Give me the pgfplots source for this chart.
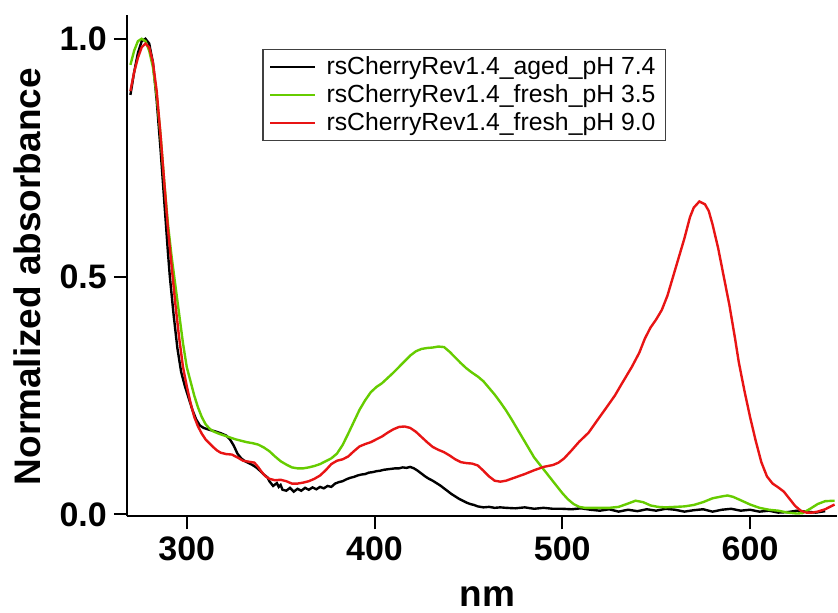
\documentclass[border=0pt]{standalone}
\usepackage{pgfplots}
\pgfplotsset{compat=1.18}
\usepackage{fontspec}
\setmainfont{Liberation Sans}
\definecolor{igreen}{RGB}{102,204,0}
\definecolor{ired}{RGB}{232,20,20}

\pgfplotstableread{
x y
270 0.882
272 0.93
274 0.97
276 0.995
278 1.0
280 0.99
282 0.95
284 0.87
286 0.77
288 0.66
290 0.55
291 0.50
293 0.42
295 0.35
297 0.30
299 0.27
301 0.245
303 0.22
305 0.20
307 0.187
309 0.182
312 0.178
315 0.175
318 0.171
321 0.166
323 0.158
325 0.145
327 0.128
329 0.118
331 0.112
333 0.108
335 0.104
337 0.099
339 0.092
341 0.084
343 0.078
344 0.070
346 0.060
348 0.066
349 0.058
350 0.062
351 0.052
353 0.050
355 0.056
357 0.048
359 0.054
361 0.050
363 0.056
365 0.052
367 0.057
369 0.053
371 0.058
373 0.055
375 0.060
377 0.058
379 0.065
381 0.068
383 0.070
385 0.074
387 0.077
389 0.079
391 0.082
393 0.084
395 0.085
397 0.088
399 0.089
401 0.091
403 0.092
405 0.094
407 0.095
409 0.096
411 0.097
413 0.097
415 0.099
417 0.098
419 0.100
421 0.097
423 0.092
425 0.086
427 0.080
429 0.075
431 0.071
433 0.066
435 0.061
437 0.055
439 0.049
441 0.043
443 0.038
445 0.033
447 0.029
449 0.025
451 0.022
453 0.020
455 0.017
458 0.015
461 0.016
464 0.014
467 0.015
470 0.014
475 0.013
480 0.015
485 0.012
490 0.014
495 0.012
500 0.012
505 0.011
510 0.013
515 0.010
520 0.008
525 0.011
530 0.006
535 0.010
540 0.007
545 0.011
550 0.008
555 0.012
560 0.010
565 0.006
570 0.009
575 0.011
580 0.006
585 0.010
590 0.012
595 0.008
600 0.010
605 0.006
610 0.008
615 0.004
620 0.005
625 0.008
630 0.006
635 0.004
640 0.007
}\aged

\pgfplotstableread{
x y
270 0.945
272 0.975
274 0.995
276 1.0
278 0.995
280 0.975
282 0.94
284 0.88
286 0.80
288 0.70
290 0.61
292 0.54
294 0.48
296 0.42
298 0.36
300 0.31
302 0.28
304 0.25
306 0.225
308 0.205
310 0.19
312 0.181
314 0.175
317 0.170
320 0.166
323 0.162
326 0.158
329 0.155
332 0.152
335 0.150
338 0.147
341 0.141
344 0.133
347 0.122
350 0.112
353 0.105
356 0.099
359 0.097
362 0.097
365 0.099
368 0.102
371 0.106
374 0.112
377 0.118
380 0.128
383 0.146
386 0.170
389 0.195
392 0.220
395 0.240
398 0.257
401 0.268
404 0.276
407 0.287
410 0.298
413 0.310
416 0.322
419 0.334
422 0.343
425 0.348
428 0.350
431 0.351
434 0.353
437 0.352
440 0.342
443 0.330
446 0.318
449 0.307
452 0.298
455 0.290
458 0.280
461 0.266
464 0.252
467 0.236
470 0.219
473 0.200
476 0.180
479 0.160
482 0.140
485 0.120
488 0.105
491 0.090
494 0.075
497 0.060
500 0.045
503 0.032
506 0.022
509 0.016
512 0.014
516 0.014
520 0.014
525 0.014
530 0.016
535 0.023
539 0.029
543 0.026
547 0.019
551 0.016
555 0.015
560 0.016
565 0.017
570 0.020
575 0.026
580 0.034
585 0.038
588 0.040
591 0.037
595 0.030
600 0.021
605 0.014
610 0.010
615 0.008
620 0.004
625 0.002
628 0.003
632 0.012
636 0.022
640 0.028
645 0.029
}\freshlow

\pgfplotstableread{
x y
270 0.89
272 0.93
274 0.96
276 0.982
278 0.99
280 0.982
282 0.95
284 0.89
286 0.80
288 0.70
290 0.60
292 0.52
294 0.44
296 0.37
298 0.31
300 0.27
302 0.235
304 0.205
306 0.185
308 0.170
310 0.158
312 0.150
314 0.142
316 0.135
318 0.130
321 0.127
324 0.126
327 0.120
330 0.113
333 0.111
336 0.109
338 0.100
340 0.089
342 0.080
344 0.075
347 0.072
350 0.073
353 0.070
356 0.065
359 0.065
362 0.067
365 0.070
368 0.075
371 0.082
374 0.093
377 0.106
380 0.113
383 0.116
386 0.122
389 0.133
392 0.143
395 0.148
398 0.152
401 0.158
404 0.164
407 0.172
410 0.179
413 0.184
416 0.185
419 0.182
422 0.174
425 0.163
428 0.152
431 0.142
434 0.136
437 0.131
440 0.124
443 0.116
446 0.110
449 0.108
452 0.107
455 0.103
458 0.092
461 0.080
464 0.071
467 0.069
470 0.071
475 0.078
480 0.085
485 0.093
490 0.100
495 0.104
498 0.109
501 0.118
505 0.135
509 0.153
514 0.172
519 0.200
523 0.222
528 0.250
532 0.277
537 0.310
541 0.340
544 0.370
547 0.393
550 0.410
553 0.430
556 0.460
559 0.500
562 0.540
565 0.580
568 0.625
570 0.645
573 0.658
576 0.652
578 0.638
580 0.610
583 0.560
586 0.500
589 0.440
592 0.370
594 0.320
597 0.260
600 0.205
603 0.155
606 0.110
609 0.080
612 0.065
615 0.057
618 0.048
621 0.033
624 0.018
627 0.008
630 0.004
633 0.004
636 0.006
640 0.011
645 0.021
}\freshhigh

\begin{document}
\begin{tikzpicture}
\begin{axis}[
name=ax,
scale only axis,
width=355.5pt,height=251pt,
xmin=268.1,xmax=646.3,ymin=-0.004,ymax=1.05,
axis x line=bottom,axis y line=left,
axis line style={-,line width=1pt},
xtick={300,400,500,600},
ytick={0,0.5,1},yticklabels={0.0,0.5,1.0},
tick align=outside,major tick length=6.5pt,
tick style={black,line width=1pt},
/pgf/number format/assume math mode=true,
tick label style={font=\fontsize{17}{20}\selectfont\bfseries},
xlabel={nm},ylabel={Normalized absorbance},
label style={font=\fontsize{18.5}{22}\selectfont\bfseries},
xlabel style={at={(axis description cs:0.508,-0.179)},anchor=base},
ylabel style={at={(axis description cs:-0.14,0.478)},anchor=center},
legend style={at={(axis description cs:0.191,0.932)},anchor=north west,
  draw=black!75,line width=0.7pt,font=\fontsize{12.4}{14.5}\selectfont,
  row sep=0.5pt,inner xsep=3pt,inner ysep=2pt,
  nodes={inner ysep=1.5pt},
  /tikz/every odd column/.append style={column sep=3pt}},
legend cell align=left,
legend image code/.code={\draw[#1] (0pt,0pt) -- (22.5pt,0pt);},
]
\addplot[black,line width=1.2pt] table {\aged};
\addlegendentry{rsCherryRev1.4\_aged\_pH 7.4\hspace{24pt}}
\addplot[igreen,line width=1.2pt] table {\freshlow};
\addlegendentry{rsCherryRev1.4\_fresh\_pH 3.5\hspace{24pt}}
\addplot[ired,line width=1.2pt] table {\freshhigh};
\addlegendentry{rsCherryRev1.4\_fresh\_pH 9.0\hspace{24pt}}
\end{axis}
\path ([xshift=-63.5pt,yshift=-46pt]ax.south west) rectangle ([yshift=7.5pt]ax.north east);
\end{tikzpicture}
\end{document}
